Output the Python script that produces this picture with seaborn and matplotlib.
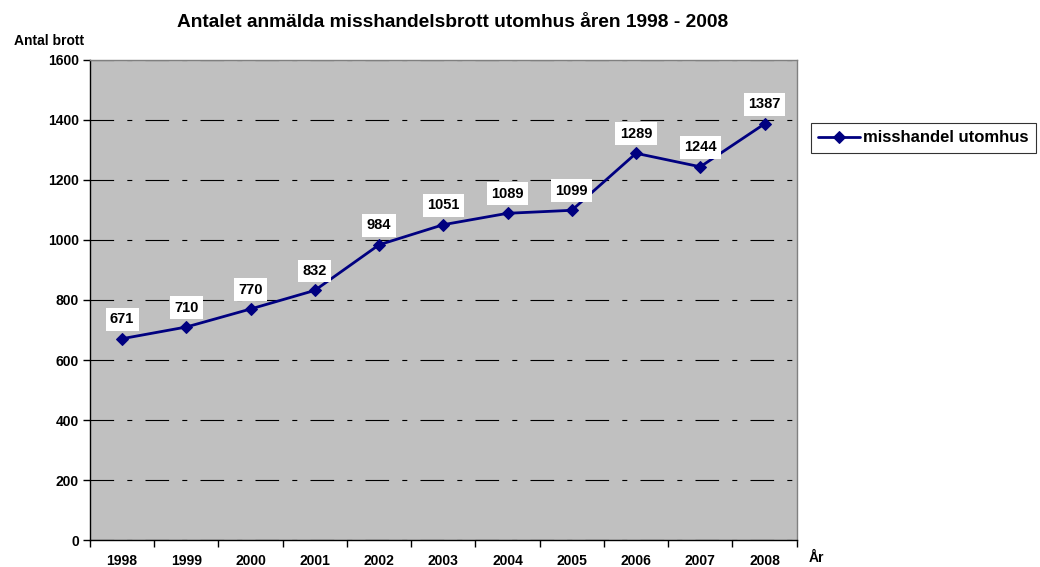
import numpy as np
import pandas as pd
import matplotlib
matplotlib.use("Agg")
import matplotlib.pyplot as plt
import seaborn as sns

# Data
years = ["1998", "1999", "2000", "2001", "2002", "2003", "2004", "2005", "2006", "2007", "2008"]
values = [671, 710, 770, 832, 984, 1051, 1089, 1099, 1289, 1244, 1387]
series_name = "misshandel utomhus"

df = pd.DataFrame({"pos": np.arange(len(years)), "year": years, "antal": values})

sns.set_style("white")
plt.rcParams["font.family"] = ["Liberation Sans", "DejaVu Sans"]
plt.rcParams["font.weight"] = "bold"
plt.rcParams["text.color"] = "black"
plt.rcParams["xtick.color"] = "black"
plt.rcParams["ytick.color"] = "black"
plt.rcParams["lines.scale_dashes"] = False

fig = plt.figure(figsize=(10.4, 5.67), dpi=100)
ax = fig.add_axes([0.0865, 0.0476, 0.6795, 0.8466])
ax.set_facecolor("#C0C0C0")

sns.lineplot(data=df, x="pos", y="antal", ax=ax, color="#000080", marker="D",
             markersize=6, markeredgecolor="#000080", linewidth=2, label=series_name)

# data labels
for i, v in enumerate(values):
    ax.annotate(str(v), (i, v), xytext=(0, 14), textcoords="offset points",
                ha="center", va="center", fontsize=10.5, fontweight="bold", color="black",
                bbox=dict(boxstyle="square,pad=0.3", fc="white", ec="none"))

ax.set_xlim(-0.5, len(years) - 0.5)
ax.set_ylim(0, 1600)
ax.set_yticks(range(0, 1601, 200))
ax.set_yticklabels([str(t) for t in range(0, 1601, 200)], fontsize=10, fontweight="bold")
ax.set_xticks(np.arange(len(years)))
ax.set_xticklabels(years, fontsize=10, fontweight="bold")
ax.set_xticks(np.arange(-0.5, len(years), 1), minor=True)
ax.tick_params(axis="x", which="major", bottom=False, length=0, pad=10)
ax.tick_params(axis="x", which="minor", bottom=True, length=5, width=1, direction="out", color="black")
ax.tick_params(axis="y", left=True, length=5, width=1, direction="out", color="black", pad=3)

ax.grid(axis="y", color="black", linestyle=(0, (17, 9.5, 3.6, 9.5)), linewidth=0.8)
ax.set_axisbelow(True)

for side in ["left", "bottom"]:
    ax.spines[side].set_color("black")
    ax.spines[side].set_linewidth(1)
for side in ["top", "right"]:
    ax.spines[side].set_color("#808080")
    ax.spines[side].set_linewidth(1)

ax.set_xlabel("")
ax.set_ylabel("")
fig.text(0.013, 0.928, "Antal brott", fontsize=10, fontweight="bold", va="center")
fig.text(0.778, 0.016, "År", fontsize=10, fontweight="bold", va="center")
fig.suptitle("Antalet anmälda misshandelsbrott utomhus åren 1998 - 2008",
             x=0.435, y=0.976, fontsize=13.8, fontweight="bold")

leg = ax.legend(loc="center left", bbox_to_anchor=(1.02, 0.8375), frameon=True,
                fancybox=False, fontsize=12, borderpad=0.45, handlelength=2.5,
                handletextpad=0.2, borderaxespad=0)
leg.get_frame().set_edgecolor("black")
leg.get_frame().set_linewidth(0.8)
for t in leg.get_texts():
    t.set_fontweight("bold")

fig.savefig("out.png", dpi=100, facecolor="white")
